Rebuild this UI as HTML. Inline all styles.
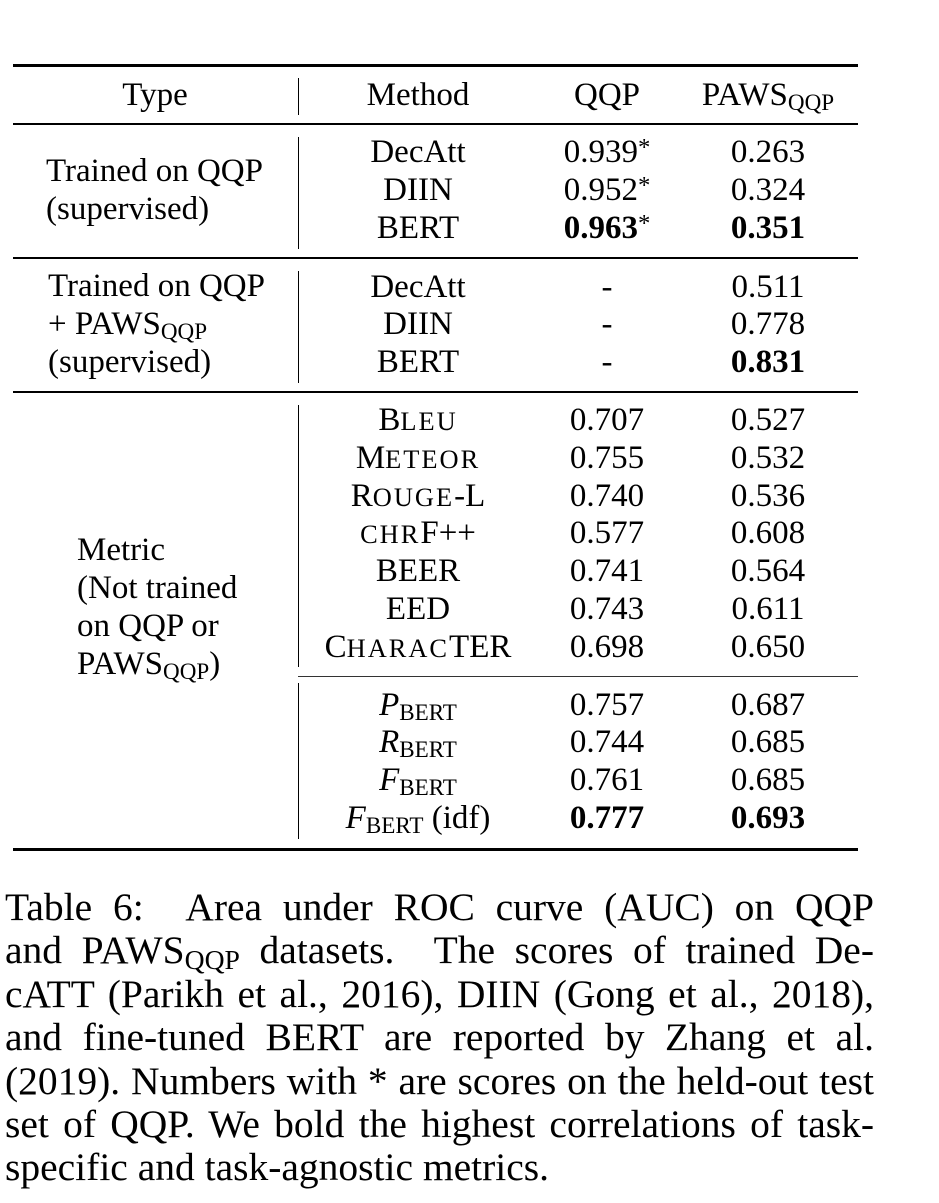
<!DOCTYPE html>
<html>
<head>
<meta charset="utf-8">
<style>
  html, body { margin:0; padding:0; background:#fff; }
  body { width:939px; height:1203px; position:relative; overflow:hidden;
         font-family:"Liberation Serif","Times New Roman",serif; color:#000; }
  .t { position:absolute; font-size:33px; line-height:38px; white-space:nowrap; }
  .c { position:absolute; font-size:33px; line-height:38px; white-space:nowrap; width:300px; text-align:center; }
  .hr { position:absolute; left:13px; width:845px; background:#000; }
  .vr { position:absolute; left:297.5px; width:1.5px; background:#000; }
  .sc { font-size:0.8em; letter-spacing:2px; }
  .sub { font-size:0.7em; position:relative; top:0.22em; }
  .ast { font-size:0.75em; position:relative; top:-0.3em; }
  b { font-weight:bold; }
  .cap { position:absolute; left:5px; width:869px; font-size:39.5px; line-height:43.4px; white-space:nowrap; }
  .j { text-align:justify; text-align-last:justify; white-space:normal; }
  .capsub { font-size:0.7em; position:relative; top:0.22em; }
</style>
</head>
<body>

<!-- horizontal rules -->
<div class="hr" style="top:63.5px;height:3px;"></div>
<div class="hr" style="top:123px;height:2px;"></div>
<div class="hr" style="top:257px;height:2px;"></div>
<div class="hr" style="top:391px;height:2px;"></div>
<div class="hr" style="top:676px;height:1.2px;left:298px;width:560px;background:#333;"></div>
<div class="hr" style="top:847.5px;height:3px;"></div>

<!-- vertical rule segments -->
<div class="vr" style="top:78px;height:37px;"></div>
<div class="vr" style="top:137px;height:112px;"></div>
<div class="vr" style="top:271px;height:112px;"></div>
<div class="vr" style="top:405px;height:262px;"></div>
<div class="vr" style="top:683px;height:156px;"></div>

<!-- header -->
<div class="c" style="left:5px;top:76px;">Type</div>
<div class="c" style="left:268px;top:76px;">Method</div>
<div class="c" style="left:457px;top:76px;">QQP</div>
<div class="c" style="left:618px;top:76px;">PAWS<span class="sub">QQP</span></div>

<!-- section 1 -->
<div class="t" style="left:46px;top:152px;">Trained on QQP</div>
<div class="t" style="left:46px;top:190px;">(supervised)</div>
<div class="c" style="left:268px;top:133px;">DecAtt</div>
<div class="c" style="left:268px;top:171px;">DIIN</div>
<div class="c" style="left:268px;top:209px;">BERT</div>
<div class="c" style="left:457px;top:133px;">0.939<span class="ast">*</span></div>
<div class="c" style="left:457px;top:171px;">0.952<span class="ast">*</span></div>
<div class="c" style="left:457px;top:209px;"><b>0.963</b><span class="ast">*</span></div>
<div class="c" style="left:618px;top:133px;">0.263</div>
<div class="c" style="left:618px;top:171px;">0.324</div>
<div class="c" style="left:618px;top:209px;"><b>0.351</b></div>

<!-- section 2 -->
<div class="t" style="left:48px;top:267px;">Trained on QQP</div>
<div class="t" style="left:48px;top:305px;">+ PAWS<span class="sub">QQP</span></div>
<div class="t" style="left:48px;top:343px;">(supervised)</div>
<div class="c" style="left:268px;top:268px;">DecAtt</div>
<div class="c" style="left:268px;top:305px;">DIIN</div>
<div class="c" style="left:268px;top:343px;">BERT</div>
<div class="c" style="left:457px;top:268px;">-</div>
<div class="c" style="left:457px;top:305px;">-</div>
<div class="c" style="left:457px;top:343px;">-</div>
<div class="c" style="left:618px;top:268px;">0.511</div>
<div class="c" style="left:618px;top:305px;">0.778</div>
<div class="c" style="left:618px;top:343px;"><b>0.831</b></div>

<!-- section 3 -->
<div class="t" style="left:77px;top:531px;">Metric</div>
<div class="t" style="left:77px;top:569px;">(Not trained</div>
<div class="t" style="left:77px;top:607px;">on QQP or</div>
<div class="t" style="left:77px;top:645px;">PAWS<span class="sub">QQP</span>)</div>

<div class="c" style="left:268px;top:401px;">B<span class="sc">LEU</span></div>
<div class="c" style="left:268px;top:439px;">M<span class="sc">ETEOR</span></div>
<div class="c" style="left:268px;top:477px;">R<span class="sc">OUGE</span>-L</div>
<div class="c" style="left:268px;top:514px;"><span class="sc">CHR</span>F++</div>
<div class="c" style="left:268px;top:552px;">BEER</div>
<div class="c" style="left:268px;top:590px;">EED</div>
<div class="c" style="left:268px;top:628px;">C<span class="sc">HARAC</span>TER</div>

<div class="c" style="left:457px;top:401px;">0.707</div>
<div class="c" style="left:457px;top:439px;">0.755</div>
<div class="c" style="left:457px;top:477px;">0.740</div>
<div class="c" style="left:457px;top:514px;">0.577</div>
<div class="c" style="left:457px;top:552px;">0.741</div>
<div class="c" style="left:457px;top:590px;">0.743</div>
<div class="c" style="left:457px;top:628px;">0.698</div>

<div class="c" style="left:618px;top:401px;">0.527</div>
<div class="c" style="left:618px;top:439px;">0.532</div>
<div class="c" style="left:618px;top:477px;">0.536</div>
<div class="c" style="left:618px;top:514px;">0.608</div>
<div class="c" style="left:618px;top:552px;">0.564</div>
<div class="c" style="left:618px;top:590px;">0.611</div>
<div class="c" style="left:618px;top:628px;">0.650</div>

<!-- section 4 -->
<div class="c" style="left:268px;top:686px;"><i>P</i><span class="sub">BERT</span></div>
<div class="c" style="left:268px;top:723px;"><i>R</i><span class="sub">BERT</span></div>
<div class="c" style="left:268px;top:761px;"><i>F</i><span class="sub">BERT</span></div>
<div class="c" style="left:268px;top:799px;"><i>F</i><span class="sub">BERT</span> (idf)</div>

<div class="c" style="left:457px;top:686px;">0.757</div>
<div class="c" style="left:457px;top:723px;">0.744</div>
<div class="c" style="left:457px;top:761px;">0.761</div>
<div class="c" style="left:457px;top:799px;"><b>0.777</b></div>

<div class="c" style="left:618px;top:686px;">0.687</div>
<div class="c" style="left:618px;top:723px;">0.685</div>
<div class="c" style="left:618px;top:761px;">0.685</div>
<div class="c" style="left:618px;top:799px;"><b>0.693</b></div>

<!-- caption -->
<div class="cap j" style="top:886px;">Table 6: &nbsp;Area under ROC curve (AUC) on QQP</div>
<div class="cap j" style="top:929.4px;">and PAWS<span class="capsub">QQP</span> datasets. &nbsp;The scores of trained De-</div>
<div class="cap j" style="top:972.8px;">cATT (Parikh et al., 2016), DIIN (Gong et al., 2018),</div>
<div class="cap j" style="top:1016.2px;">and fine-tuned BERT are reported by Zhang et al.</div>
<div class="cap j" style="top:1059.6px;">(2019). Numbers with * are scores on the held-out test</div>
<div class="cap j" style="top:1103px;">set of QQP. We bold the highest correlations of task-</div>
<div class="cap" style="top:1146.4px;">specific and task-agnostic metrics.</div>

</body>
</html>
